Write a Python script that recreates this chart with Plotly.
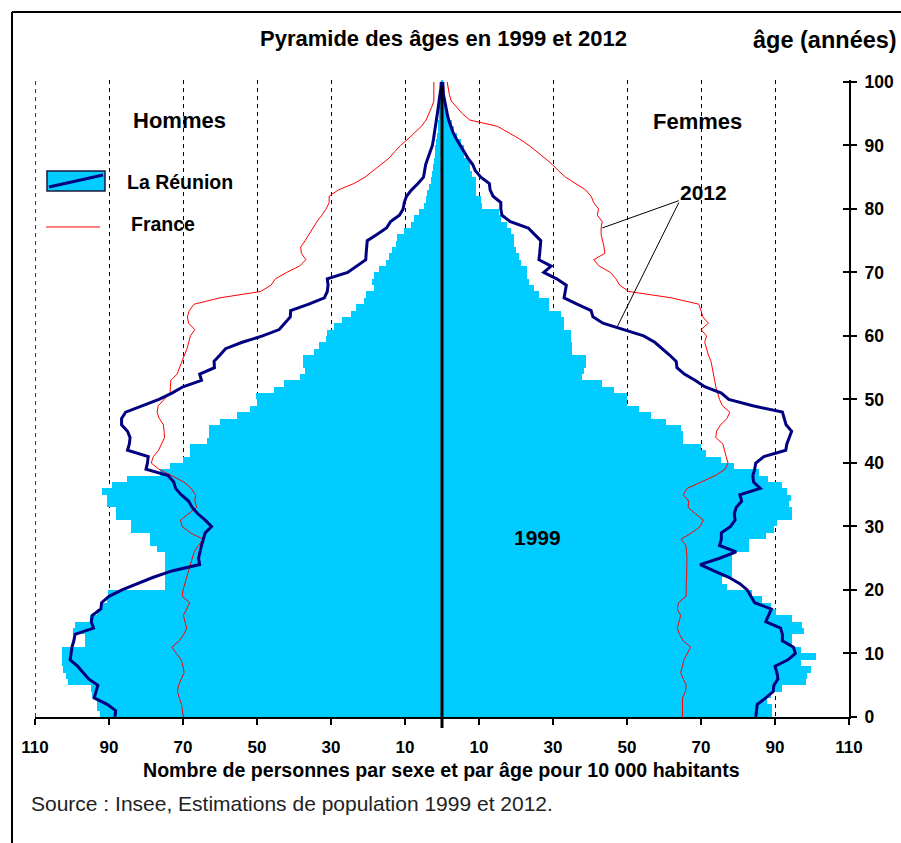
import plotly.graph_objects as go

# ---------------- data (per 10 000 inhabitants, by sex and single age) ----------------
AGES = list(range(0, 101))

# La Réunion 1999 (bars)
men_1999 = [
    92.4, 93.3, 93.3, 94.7, 95.0, 101.0, 101.6, 102.3, 102.8, 102.8,
    102.8, 96.5, 96.5, 99.6, 99.2, 95.1, 93.3, 92.0, 90.6, 90.2,
    74.9, 74.9, 74.9, 75.0, 75.0, 75.0, 77.0, 79.0, 79.0, 84.0,
    84.0, 88.0, 88.0, 90.6, 90.6, 92.0, 89.3, 85.2, 76.2, 73.5,
    70.0, 68.0, 68.0, 63.6, 63.0, 63.0, 60.0, 55.5, 51.9, 50.0,
    50.4, 45.4, 42.7, 38.5, 37.0, 37.7, 37.7, 34.6, 33.2, 31.4,
    31.0, 29.2, 26.9, 24.7, 23.3, 21.1, 20.6, 18.4, 18.8, 18.4,
    17.0, 15.2, 14.3, 13.4, 12.5, 12.1, 10.3, 8.5, 7.6, 6.3,
    4.9, 4.4, 4.0, 3.5, 3.1, 2.8, 2.5, 2.2, 2.0, 1.8,
    1.6, 1.4, 1.2, 1.0, 0.9, 0.7, 0.6, 0.5, 0.4, 0.3, 0.2,
]
women_1999 = [
    89.2, 89.2, 87.9, 89.0, 92.0, 98.3, 98.7, 99.6, 96.9, 101.0,
    97.0, 94.7, 94.7, 97.9, 97.4, 94.7, 90.2, 88.8, 86.6, 83.9,
    77.1, 75.8, 78.5, 78.5, 78.5, 78.5, 83.0, 83.0, 87.5, 89.7,
    90.6, 94.7, 94.7, 93.8, 94.2, 93.3, 91.9, 88.0, 85.7, 78.9,
    75.3, 71.3, 69.9, 65.0, 65.0, 64.5, 60.5, 56.4, 53.2, 50.1,
    50.1, 46.5, 43.3, 37.9, 38.4, 38.8, 38.8, 35.2, 35.0, 34.8,
    34.8, 33.0, 33.0, 32.1, 28.9, 28.9, 26.2, 24.9, 23.5, 23.1,
    23.1, 21.3, 20.8, 20.1, 19.5, 19.5, 18.6, 17.7, 15.9, 15.4,
    10.9, 10.5, 9.1, 9.1, 9.1, 8.2, 7.7, 7.7, 5.9, 5.9,
    5.0, 4.1, 3.2, 2.6, 1.9, 1.4, 1.0, 0.7, 0.5, 0.3, 0.2,
]

# La Réunion 2012 (dark blue line)
men_reunion_2012 = [
    88.4, 88.2, 90.5, 94.0, 93.5, 93.0, 95.5, 97.0, 98.5, 100.5,
    100.3, 100.0, 99.5, 99.2, 94.2, 94.8, 94.5, 92.2, 92.0, 90.0,
    86.5, 82.5, 78.0, 73.0, 65.5, 65.8, 65.5, 65.0, 64.5, 64.0,
    62.3, 64.0, 66.0, 67.5, 68.5, 70.5, 72.0, 72.5, 74.0, 80.0,
    79.6, 79.4, 85.0, 84.5, 84.3, 85.0, 86.6, 86.6, 85.5, 81.0,
    76.5, 73.0, 70.0, 65.0, 65.5, 61.5, 61.6, 60.0, 58.5, 54.0,
    48.5, 44.0, 42.5, 41.0, 40.9, 36.0, 31.8, 31.0, 30.8, 31.0,
    25.5, 23.0, 20.6, 20.5, 20.4, 20.2, 17.5, 15.0, 13.9, 11.5,
    10.5, 10.2, 9.6, 8.2, 6.5, 5.0, 4.7, 4.4, 3.8, 3.2,
    2.6, 2.3, 2.0, 1.8, 1.5, 1.3, 1.0, 0.8, 0.5, 0.3, 0.2,
]
women_reunion_2012 = [
    84.8, 85.0, 85.2, 87.5, 89.5, 89.7, 90.8, 90.5, 90.0, 93.5,
    95.5, 95.0, 92.0, 92.0, 91.5, 87.5, 88.3, 89.0, 84.5, 83.5,
    82.5, 80.5, 77.5, 73.5, 69.8, 75.0, 79.5, 75.0, 75.5, 75.5,
    78.0, 79.2, 79.0, 79.5, 81.0, 80.5, 86.0, 84.2, 84.0, 84.5,
    84.8, 87.0, 92.9, 93.2, 93.8, 94.5, 93.0, 92.5, 92.0, 84.0,
    77.5, 75.5, 71.0, 68.5, 65.5, 63.5, 63.3, 61.5, 59.5, 57.5,
    54.5, 49.0, 43.5, 40.8, 40.3, 36.5, 33.0, 33.3, 33.6, 31.0,
    27.5, 29.5, 26.2, 26.4, 26.5, 26.7, 25.0, 23.3, 18.5, 16.2,
    15.9, 15.9, 13.8, 13.0, 12.8, 10.5, 9.0, 8.3, 7.0, 5.9,
    4.8, 3.9, 3.0, 2.3, 1.8, 1.4, 1.0, 0.6, 0.4, 0.3, 0.2,
]

# France 2012 (red line)
men_france_2012 = [
    69.9, 70.1, 70.4, 71.0, 71.5, 71.2, 70.5, 69.7, 70.0, 70.5,
    71.8, 73.0, 71.0, 69.8, 69.0, 69.5, 69.9, 69.0, 68.2, 70.2,
    70.0, 69.5, 69.0, 68.3, 67.8, 67.3, 67.0, 65.8, 64.6, 68.0,
    70.2, 70.7, 68.5, 66.3, 66.8, 66.6, 67.8, 69.8, 73.0, 76.5,
    78.6, 78.0, 76.6, 75.8, 75.0, 75.1, 75.3, 76.4, 77.0, 76.7,
    75.0, 73.5, 73.4, 73.3, 71.6, 71.0, 70.3, 69.6, 68.9, 68.4,
    68.0, 66.8, 68.5, 68.8, 68.3, 67.0, 60.0, 49.0, 46.2, 45.0,
    42.0, 38.5, 36.8, 38.0, 38.2, 37.0, 36.0, 35.0, 33.8, 32.5,
    31.3, 30.5, 30.5, 28.0, 23.8, 20.8, 18.6, 16.5, 14.3, 12.8,
    11.2, 9.2, 7.4, 5.6, 4.3, 3.5, 2.8, 2.2, 2.2, 2.2, 2.2,
]
women_france_2012 = [
    65.0, 65.0, 65.0, 65.0, 65.8, 66.0, 65.2, 64.5, 65.0, 65.4,
    66.3, 67.2, 65.2, 64.2, 63.6, 64.0, 64.5, 63.6, 63.9, 66.0,
    65.9, 66.0, 66.1, 66.2, 66.3, 66.2, 66.1, 65.9, 64.6, 67.5,
    69.8, 70.6, 68.5, 66.5, 66.7, 65.2, 66.3, 70.0, 73.8, 76.5,
    77.3, 76.8, 76.3, 75.9, 74.0, 74.2, 75.3, 77.0, 77.8, 75.8,
    75.0, 74.4, 74.0, 73.7, 73.3, 73.0, 72.7, 72.0, 71.5, 71.0,
    71.5, 70.0, 72.0, 70.5, 70.0, 69.4, 62.0, 50.5, 48.0, 47.0,
    45.5, 42.5, 41.0, 44.0, 43.8, 43.5, 43.0, 43.0, 43.3, 42.0,
    42.3, 41.0, 40.3, 38.8, 36.0, 33.4, 31.5, 29.8, 27.8, 25.7,
    23.5, 21.0, 18.0, 15.0, 7.5, 5.5, 4.0, 2.5, 2.0, 1.6, 1.4,
]

X_TICKS = [-110, -90, -70, -50, -30, -10, 10, 30, 50, 70, 90, 110]
X_TICK_TEXT = ["110", "90", "70", "50", "30", "10", "10", "30", "50", "70", "90", "110"]
Y_TICKS = list(range(0, 101, 10))

# ---------------- styling ----------------
FONT = "Liberation Sans, Arial, Helvetica, sans-serif"
CYAN = "#00CCFF"
NAVY = "#000080"
RED = "#FF0000"

W, H = 901, 843
L, R, T, B = 35, 52, 80, 126
PW, PH = W - L - R, H - T - B


def px(x):
    return (x - L) / PW


def py(y):
    return (H - B - y) / PH


fig = go.Figure()

bar_y = [a + 0.5 for a in AGES]
fig.add_trace(go.Bar(y=bar_y, x=[-v for v in men_1999], orientation="h", width=1,
                     marker=dict(color=CYAN, line=dict(width=0)), showlegend=False,
                     hoverinfo="skip"))
fig.add_trace(go.Bar(y=bar_y, x=women_1999, orientation="h", width=1,
                     marker=dict(color=CYAN, line=dict(width=0)), showlegend=False,
                     hoverinfo="skip"))

fig.add_trace(go.Scatter(x=[-v for v in men_france_2012], y=AGES, mode="lines",
                         line=dict(color=RED, width=1), showlegend=False))
fig.add_trace(go.Scatter(x=women_france_2012, y=AGES, mode="lines",
                         line=dict(color=RED, width=1), showlegend=False))
fig.add_trace(go.Scatter(x=[-v for v in men_reunion_2012], y=AGES, mode="lines",
                         line=dict(color=NAVY, width=3), showlegend=False))
fig.add_trace(go.Scatter(x=women_reunion_2012, y=AGES, mode="lines",
                         line=dict(color=NAVY, width=3), showlegend=False))

shapes = []
# dashed gridline on the left edge (-110)
shapes.append(dict(type="line", xref="x", yref="paper", x0=-110, x1=-110, y0=0, y1=1,
                   line=dict(color="black", width=1.5, dash="4px,4px"), layer="below"))
# centre axis line
shapes.append(dict(type="line", xref="x", yref="paper", x0=0, x1=0,
                   y0=py(728), y1=py(86), line=dict(color="black", width=3), layer="above"))
# callout lines for "2012"
shapes.append(dict(type="line", xref="x", yref="y", x0=64, y0=81.3, x1=43.3, y1=77.0,
                   line=dict(color="black", width=1), layer="above"))
shapes.append(dict(type="line", xref="x", yref="y", x0=64, y0=81.0, x1=47.4, y1=61.5,
                   line=dict(color="black", width=1), layer="above"))
# legend: La Réunion swatch
shapes.append(dict(type="rect", xref="paper", yref="paper", x0=px(47), x1=px(105),
                   y0=py(191), y1=py(171), fillcolor=CYAN,
                   line=dict(color="#1a1a40", width=1.5), layer="above"))
shapes.append(dict(type="line", xref="paper", yref="paper", x0=px(49), y0=py(187),
                   x1=px(103), y1=py(175), line=dict(color=NAVY, width=3), layer="above"))
# legend: France line
shapes.append(dict(type="line", xref="paper", yref="paper", x0=px(46), y0=py(227),
                   x1=px(100), y1=py(227), line=dict(color=RED, width=1), layer="above"))
# outer frame
shapes.append(dict(type="line", xref="paper", yref="paper", x0=px(12), y0=py(12),
                   x1=px(905), y1=py(12), line=dict(color="black", width=2), layer="above"))
shapes.append(dict(type="line", xref="paper", yref="paper", x0=px(12), y0=py(12),
                   x1=px(12), y1=py(850), line=dict(color="black", width=2), layer="above"))

annotations = []
annotations.append(dict(text="<b>Pyramide des âges en 1999 et 2012</b>", xref="paper", yref="paper",
                        x=px(443), y=py(38), showarrow=False, xanchor="center", yanchor="middle",
                        font=dict(family=FONT, size=22, color="black")))
annotations.append(dict(text="<b>âge (années)</b>", xref="paper", yref="paper",
                        x=px(899), y=py(40), showarrow=False, xanchor="right", yanchor="middle",
                        font=dict(family=FONT, size=23.5, color="black")))
annotations.append(dict(text="<b>Hommes</b>", xref="x", yref="y", x=-71, y=94,
                        showarrow=False, font=dict(family=FONT, size=22, color="black")))
annotations.append(dict(text="<b>Femmes</b>", xref="x", yref="y", x=69, y=93.8,
                        showarrow=False, font=dict(family=FONT, size=22, color="black")))
annotations.append(dict(text="<b>1999</b>", xref="x", yref="y", x=25.7, y=28.2,
                        showarrow=False, font=dict(family=FONT, size=21, color="black")))
annotations.append(dict(text="<b>2012</b>", xref="x", yref="y", x=70.8, y=82.6,
                        showarrow=False, font=dict(family=FONT, size=21, color="black")))
annotations.append(dict(text="<b>La Réunion</b>", xref="paper", yref="paper", x=px(125),
                        y=py(182), showarrow=False, xanchor="left", yanchor="middle",
                        font=dict(family=FONT, size=19.5, color="black")))
annotations.append(dict(text="<b>France</b>", xref="paper", yref="paper", x=px(129),
                        y=py(224), showarrow=False, xanchor="left", yanchor="middle",
                        font=dict(family=FONT, size=19.5, color="black")))
annotations.append(dict(text="<b>Nombre de personnes par sexe et par âge pour 10 000 habitants</b>",
                        xref="paper", yref="paper", x=px(441), y=py(770), showarrow=False,
                        xanchor="center", yanchor="middle",
                        font=dict(family=FONT, size=19.6, color="black")))
annotations.append(dict(text="Source : Insee, Estimations de population 1999 et 2012.",
                        xref="paper", yref="paper", x=px(29), y=py(803), showarrow=False,
                        xanchor="left", yanchor="middle",
                        font=dict(family=FONT, size=21, color="#222222")))

fig.update_layout(
    width=W, height=H,
    margin=dict(l=L, r=R, t=T, b=B, pad=0, autoexpand=False),
    paper_bgcolor="white", plot_bgcolor="white",
    barmode="overlay", bargap=0,
    showlegend=False,
    shapes=shapes, annotations=annotations,
    font=dict(family=FONT, color="black"),
    xaxis=dict(
        range=[-110, 110], tickmode="array", tickvals=X_TICKS,
        ticktext=["<b>%s</b>" % t for t in X_TICK_TEXT],
        showgrid=True, gridcolor="black", gridwidth=1, griddash="4px,4px",
        zeroline=False, showline=True, linecolor="black", linewidth=2,
        ticks="outside", ticklen=6, tickcolor="black", tickwidth=2,
        tickfont=dict(family=FONT, size=17, color="black"), ticklabelstandoff=8,
        fixedrange=True, automargin=False,
    ),
    yaxis=dict(
        range=[0, 100.3], side="right", tickmode="array", tickvals=Y_TICKS,
        ticktext=["<b>%d</b>" % v for v in Y_TICKS],
        showgrid=False, zeroline=False, showline=True, linecolor="black", linewidth=2,
        ticks="outside", ticklen=6, tickcolor="black", tickwidth=2,
        tickfont=dict(family=FONT, size=17.5, color="black"), ticklabelstandoff=4,
        fixedrange=True, automargin=False,
    ),
    yaxis2=dict(
        range=[0, 100.3], overlaying="y", side="right", tickmode="array", tickvals=Y_TICKS,
        showticklabels=False, showgrid=False, zeroline=False, showline=False,
        ticks="inside", ticklen=6, tickcolor="black", tickwidth=2, fixedrange=True,
        automargin=False,
    ),
)
# invisible trace so the inside-tick overlay axis is drawn
fig.add_trace(go.Scatter(x=[None], y=[None], yaxis="y2", showlegend=False))

fig.write_html("out.html", config={"displayModeBar": False},
               post_script="document.body.style.margin='0px';")
